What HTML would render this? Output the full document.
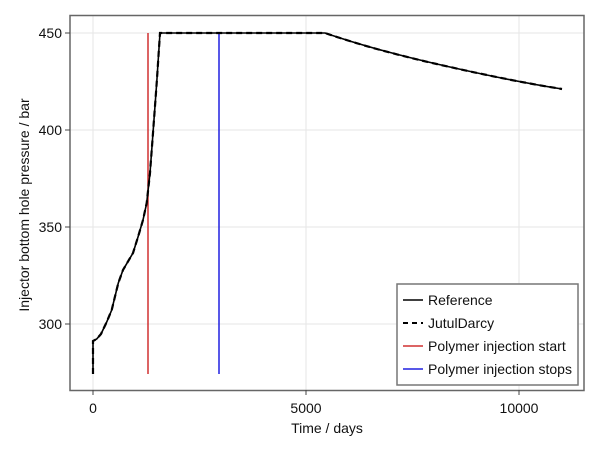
<!DOCTYPE html>
<html><head><style>body{margin:0;background:#fff}svg{display:block}text{font-family:"Liberation Sans",sans-serif;fill:#111}</style></head>
<body>
<svg width="600" height="450" viewBox="0 0 600 450">
<rect width="600" height="450" fill="#fff"/>
<g stroke="#e6e6e6" stroke-width="1">
<line x1="93" y1="15" x2="93" y2="390"/><line x1="306" y1="15" x2="306" y2="390"/><line x1="519" y1="15" x2="519" y2="390"/>
<line x1="70" y1="33" x2="584" y2="33"/><line x1="70" y1="130" x2="584" y2="130"/><line x1="70" y1="227" x2="584" y2="227"/><line x1="70" y1="324" x2="584" y2="324"/>
</g>
<line x1="148" y1="33" x2="148" y2="374" stroke="#d03030" stroke-width="1.5"/>
<line x1="219" y1="33" x2="219" y2="374" stroke="#2020e0" stroke-width="1.5"/>
<path d="M93,374 L93,341 L96.7,339 L101,334 L106.7,322 L111.7,310 L118.3,283 L123,270 L133,253 L138,237 L143,220 L146.7,203 L150,173 L153,133 L156.7,83 L160,33 L325,33 C360,45 400,56 450,67 C490,76 530,84 562,89" fill="none" stroke="#000" stroke-width="1.6"/>
<path d="M93,374 L93,341 L96.7,339 L101,334 L106.7,322 L111.7,310 L118.3,283 L123,270 L133,253 L138,237 L143,220 L146.7,203 L150,173 L153,133 L156.7,83 L160,33 L325,33 C360,45 400,56 450,67 C490,76 530,84 562,89" fill="none" stroke="#000" stroke-width="2.2" stroke-dasharray="6,4"/>
<rect x="70" y="15.5" width="514" height="375" fill="none" stroke="#666" stroke-width="1.5"/>
<g stroke="#444"><line x1="93" y1="390" x2="93" y2="395"/><line x1="306" y1="390" x2="306" y2="395"/><line x1="519" y1="390" x2="519" y2="395"/>
<line x1="65" y1="33" x2="70" y2="33"/><line x1="65" y1="130" x2="70" y2="130"/><line x1="65" y1="227" x2="70" y2="227"/><line x1="65" y1="324" x2="70" y2="324"/></g>
<g font-size="14" text-anchor="end"><text x="62" y="38">450</text><text x="62" y="135">400</text><text x="62" y="232">350</text><text x="62" y="329">300</text></g>
<g font-size="14" text-anchor="middle"><text x="93" y="413">0</text><text x="306" y="413">5000</text><text x="519" y="413">10000</text>
<text x="327" y="433">Time / days</text>
<text transform="translate(29,205) rotate(-90)">Injector bottom hole pressure / bar</text></g>
<rect x="397" y="284" width="181" height="101" fill="#fff" stroke="#777" stroke-width="1.5"/>
<line x1="403" y1="300" x2="423" y2="300" stroke="#000" stroke-width="1.6"/>
<line x1="403" y1="323" x2="423" y2="323" stroke="#000" stroke-width="2" stroke-dasharray="5,4"/>
<line x1="403" y1="346" x2="423" y2="346" stroke="#d03030" stroke-width="1.6"/>
<line x1="403" y1="369" x2="423" y2="369" stroke="#2020e0" stroke-width="1.6"/>
<g font-size="14"><text x="428" y="305">Reference</text><text x="428" y="328">JutulDarcy</text><text x="428" y="351">Polymer injection start</text><text x="428" y="374">Polymer injection stops</text></g>
</svg>
</body></html>
